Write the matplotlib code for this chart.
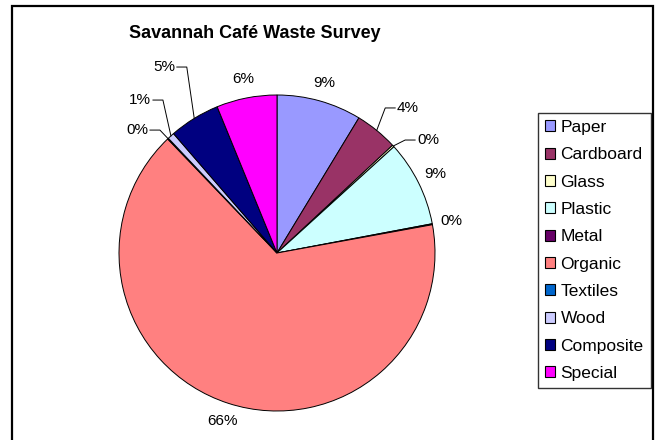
import numpy as np
import matplotlib
matplotlib.use("Agg")
import matplotlib.pyplot as plt
from matplotlib.patches import Rectangle, Patch

plt.rcParams['font.family'] = ['Liberation Sans', 'DejaVu Sans']

categories = ["Paper", "Cardboard", "Glass", "Plastic", "Metal", "Organic",
              "Textiles", "Wood", "Composite", "Special"]
values = [8.7, 4.4, 0.2, 8.8, 0.1, 65.9, 0.1, 0.7, 5.2, 6.2]
pct_labels = ["9%", "4%", "0%", "9%", "0%", "66%", "0%", "1%", "5%", "6%"]
colors = ["#9999FF", "#993366", "#FFFFCC", "#CCFFFF", "#660066", "#FF8080",
          "#0066CC", "#CCCCFF", "#000080", "#FF00FF"]

W, H = 657, 440
fig = plt.figure(figsize=(W / 100, H / 100), dpi=100)

# pie axes: center (277,253) px, radius 158 px
R = 158.0
cx, cy = 277.0, 253.0
xl, xr = -1.5, 1.5
yb, yt = -1.15, 1.4
ax = fig.add_axes([(cx + xl * R) / W, (H - (cy - yb * R)) / H,
                   (xr - xl) * R / W, (yt - yb) * R / H])

wedges, _ = ax.pie(values, colors=colors, startangle=90, counterclock=False,
                   radius=1.0, center=(0, 0),
                   wedgeprops=dict(edgecolor='black', linewidth=0.7))
ax.set_xlim(xl, xr)
ax.set_ylim(yb, yt)
ax.set_aspect('equal')
ax.axis('off')

# label layout: index -> (text x, text y, ha) for labels with leader lines
leader = {
    1: (0.76, 0.918, 'left'),
    2: (0.886, 0.715, 'left'),
    6: (-0.816, 0.778, 'right'),
    7: (-0.797, 0.968, 'right'),
    8: (-0.646, 1.177, 'right'),
}
for i, w in enumerate(wedges):
    mid = np.deg2rad((w.theta1 + w.theta2) / 2)
    ex, ey = np.cos(mid), np.sin(mid)
    if i in leader:
        tx, ty, ha = leader[i]
        gap = 0.012 if ha == 'left' else -0.012
        elbow = tx - (0.075 if ha == 'left' else -0.075)
        ax.plot([ex, elbow, tx - gap], [ey, ty, ty], color='black', lw=0.7)
        ax.text(tx, ty, pct_labels[i], ha=ha, va='center', fontsize=11)
    else:
        ax.text(1.12 * ex, 1.12 * ey, pct_labels[i], ha='center',
                va='center', fontsize=11)

fig.text(255 / W, 1 - 33 / H, "Savannah Café Waste Survey", ha='center',
         va='center', fontsize=13, fontweight='bold')

handles = [Patch(facecolor=c, edgecolor='black', linewidth=0.8) for c in colors]
leg = fig.legend(handles, categories, loc='upper left',
                 bbox_to_anchor=(538 / W, 1 - 113 / H), borderaxespad=0,
                 fontsize=12.5, frameon=True, fancybox=False, shadow=False,
                 handlelength=0.6, handleheight=0.6, handletextpad=0.3,
                 labelspacing=0.71, borderpad=0.4)
leg.get_frame().set_edgecolor('black')
leg.get_frame().set_linewidth(1.0)

fig.patches.append(Rectangle((12 / W, -0.05), (653 - 12) / W, 1.05 - 6 / H,
                             transform=fig.transFigure, fill=False,
                             edgecolor='black', linewidth=1.6))

fig.savefig("out.png", dpi=100, facecolor='white')
